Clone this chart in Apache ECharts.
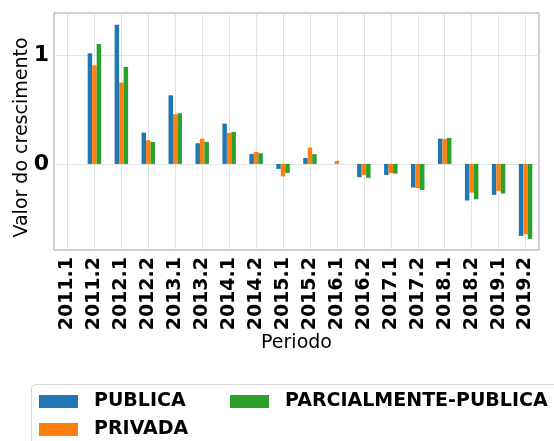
<!DOCTYPE html>
<html>
<head>
<meta charset="utf-8">
<script src="https://cdn.jsdelivr.net/npm/echarts@6/dist/echarts.min.js"></script>
<style>
html, body { margin: 0; padding: 0; background: #fff; }
#chart { width: 554px; height: 441px; }
</style>
</head>
<body>
<div id="chart"></div>
<script>
var periodos = ['2011.1', '2011.2', '2012.1', '2012.2', '2013.1', '2013.2', '2014.1', '2014.2', '2015.1',
    '2015.2', '2016.1', '2016.2', '2017.1', '2017.2', '2018.1', '2018.2', '2019.1', '2019.2'];

var publica = [0, 1.015, 1.278, 0.287, 0.630, 0.190, 0.370, 0.092, -0.046,
    0.055, 0, -0.122, -0.101, -0.217, 0.232, -0.336, -0.284, -0.661];
var privada = [0, 0.905, 0.746, 0.217, 0.456, 0.232, 0.284, 0.110, -0.115,
    0.150, 0.028, -0.101, -0.086, -0.223, 0.229, -0.263, -0.248, -0.645];
var parcial = [0, 1.100, 0.890, 0.202, 0.465, 0.202, 0.294, 0.098, -0.083,
    0.089, 0, -0.128, -0.089, -0.239, 0.239, -0.324, -0.272, -0.688];

var yTicks = [0, 1];

var nomes = ['PUBLICA', 'PRIVADA', 'PARCIALMENTE-PUBLICA'];
var cores = ['#1f77b4', '#ff7f0e', '#2ca02c'];
var valores = [publica, privada, parcial];

var fonte = 'DejaVu Sans';
var myChart = echarts.init(document.getElementById('chart'));

var series = [];
for (var i = 0; i < nomes.length; i++) {
    series.push({
        name: nomes[i],
        type: 'bar',
        barWidth: '16.67%',
        barGap: '0%',
        itemStyle: { color: cores[i] },
        data: valores[i]
    });
}

var legendText = {
    fontFamily: fonte,
    fontSize: 19,
    fontWeight: 'bold',
    color: '#000',
    padding: [0, 0, 0, 11]
};

var option = {
    animation: false,
    color: cores,
    textStyle: { fontFamily: fonte },
    grid: {
        left: 54,
        right: 15,
        top: 13,
        bottom: 191,
        show: true,
        borderColor: '#a0a0a0',
        borderWidth: 1,
        containLabel: false
    },
    graphic: [{
        type: 'rect',
        z: 0,
        shape: { x: 31.5, y: 384.5, width: 540, height: 80, r: 4 },
        style: { fill: '#fff', stroke: '#d6d6d6', lineWidth: 1 }
    }],
    legend: [{
        orient: 'vertical',
        left: 34,
        top: 387,
        height: 60,
        itemWidth: 39,
        itemHeight: 13,
        itemGap: 9,
        icon: 'rect',
        data: ['PUBLICA', 'PRIVADA'],
        textStyle: legendText
    }, {
        orient: 'vertical',
        left: 225,
        top: 387,
        height: 60,
        itemWidth: 39,
        itemHeight: 13,
        icon: 'rect',
        data: ['PARCIALMENTE-PUBLICA'],
        textStyle: legendText
    }],
    xAxis: {
        type: 'category',
        data: periodos,
        name: 'Periodo',
        nameLocation: 'middle',
        nameGap: 84,
        nameMoveOverlap: false,
        nameTextStyle: { fontFamily: fonte, fontSize: 19, color: '#000' },
        axisLine: { show: false },
        axisTick: { show: false, alignWithLabel: true },
        axisLabel: {
            rotate: 90,
            interval: 0,
            margin: 7,
            fontFamily: fonte,
            fontSize: 19,
            fontWeight: 'bold',
            color: '#000'
        },
        splitLine: {
            show: true,
            alignWithLabel: true,
            interval: 0,
            lineStyle: { color: '#e2e2e2', width: 1 }
        }
    },
    yAxis: {
        type: 'value',
        min: -0.79,
        max: 1.385,
        name: 'Valor do crescimento',
        nameLocation: 'middle',
        nameGap: 22,
        nameMoveOverlap: false,
        nameTextStyle: { fontFamily: fonte, fontSize: 19, color: '#000', padding: [0, 12, 0, 0] },
        axisLine: { show: false },
        axisTick: { show: false, customValues: yTicks },
        axisLabel: {
            customValues: yTicks,
            margin: 5,
            fontFamily: fonte,
            fontSize: 22,
            fontWeight: 'bold',
            color: '#000'
        },
        splitLine: {
            show: true,
            lineStyle: { color: '#e2e2e2', width: 1 }
        }
    },
    series: series
};

myChart.setOption(option);

window.onresize = function() {
    myChart.resize();
};
</script>
</body>
</html>
